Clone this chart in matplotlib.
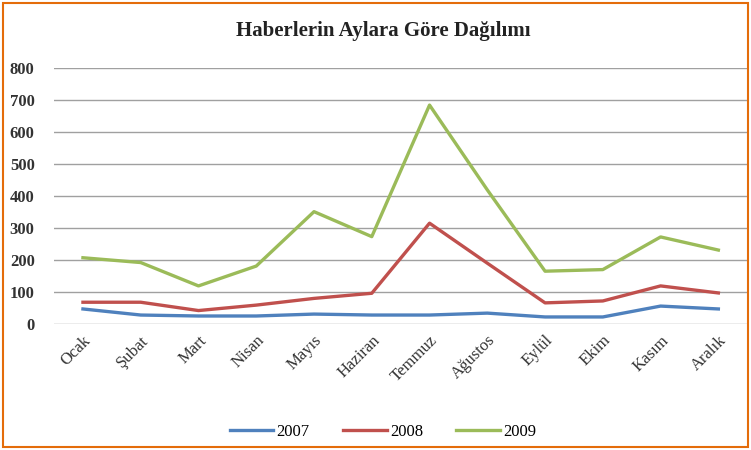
import matplotlib
matplotlib.use("Agg")
import matplotlib.pyplot as plt
from matplotlib.patches import Rectangle

months = ["Ocak", "Şubat", "Mart", "Nisan", "Mayıs", "Haziran", "Temmuz",
          "Ağustos", "Eylül", "Ekim", "Kasım", "Aralık"]
s2007 = [47, 28, 25, 25, 31, 28, 28, 34, 22, 22, 56, 47]
s2008 = [68, 68, 42, 59, 80, 96, 315, 190, 66, 72, 119, 97]
s2009 = [207, 192, 119, 181, 351, 273, 684, 419, 165, 170, 272, 231]
yticks = [0, 100, 200, 300, 400, 500, 600, 700, 800]

plt.rcParams['font.family'] = ['Liberation Serif', 'DejaVu Serif']

fig = plt.figure(figsize=(7.51, 4.5), dpi=100)
ax = fig.add_axes([0.072, 0.28, 0.923, 0.569])

x = list(range(len(months)))
ax.plot(x, s2007, color='#4F81BD', lw=2.4, label='2007')
ax.plot(x, s2008, color='#C0504D', lw=2.4, label='2008')
ax.plot(x, s2009, color='#9BBB59', lw=2.4, label='2009')

ax.set_xlim(-0.5, len(months) - 0.5)
ax.set_ylim(0, 800)
ax.set_yticks(yticks)
ax.set_yticklabels([str(v) for v in yticks], fontsize=12, fontweight='bold', color='#333333')
ax.set_xticks(x)
ax.set_xticklabels(months, rotation=45, ha='right', rotation_mode='anchor',
                   fontsize=12, color='#333333')
ax.grid(axis='y', color='#A0A0A0', lw=1)
ax.set_axisbelow(True)
for sp in ax.spines.values():
    sp.set_visible(False)
ax.tick_params(axis='both', length=0, pad=6)
ax.tick_params(axis='y', pad=14)

fig.text(0.51, 0.932, "Haberlerin Aylara Göre Dağılımı", ha='center', va='center',
         fontsize=15, fontweight='bold', color='#222222')

fig.legend(loc='center', bbox_to_anchor=(0.51, 0.04), ncol=3, frameon=False,
           fontsize=12, handlelength=2.6, columnspacing=2.0, handletextpad=0.2)

fig.add_artist(Rectangle((0.004, 0.006), 0.992, 0.988, transform=fig.transFigure,
                         fill=False, edgecolor='#E46C0A', lw=1.5))

fig.savefig("out.png", dpi=100)
